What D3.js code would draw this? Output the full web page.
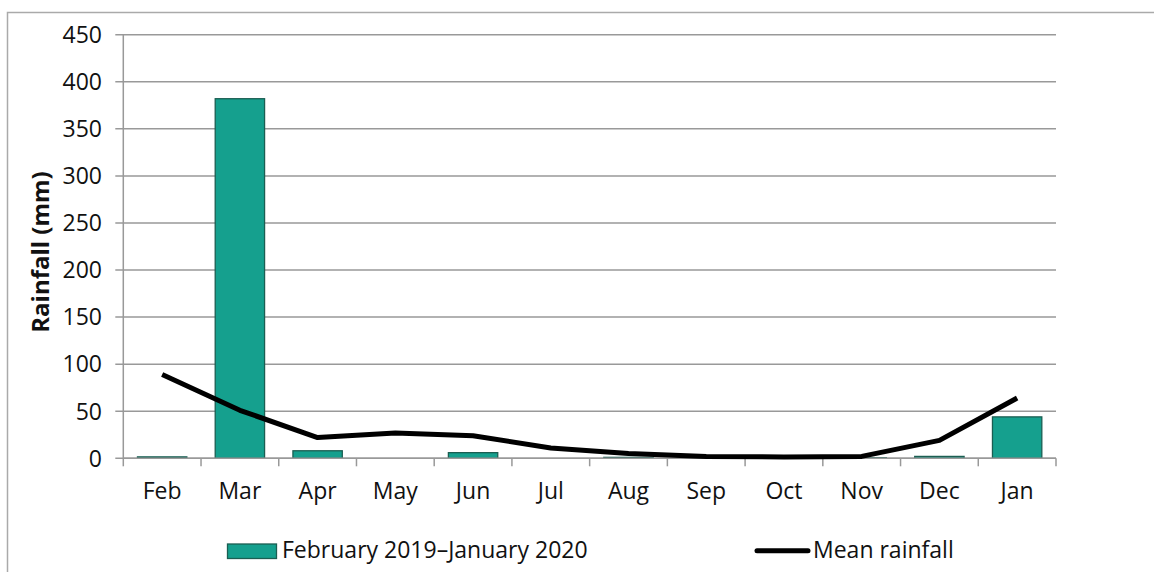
<!DOCTYPE html>
<html><head><meta charset="utf-8">
<script src="https://cdn.jsdelivr.net/npm/d3@7"></script>
<style>body{margin:0;background:#fff;} svg{display:block;}</style>
</head><body>
<svg id="chart" width="1154" height="572"></svg>
<script>
const months = ["Feb","Mar","Apr","May","Jun","Jul","Aug","Sep","Oct","Nov","Dec","Jan"];
const rainfall2019 = [1.5, 382, 8, 0, 6, 0, 1, 0, 0, 0.5, 2, 44];
const meanRainfall = [89, 51, 22, 27, 24, 11, 5, 2, 1.5, 2, 19, 64];
const yTicks = [0, 50, 100, 150, 200, 250, 300, 350, 400, 450];
const barLabel = "February 2019–January 2020";
const lineLabel = "Mean rainfall";
const yTitle = "Rainfall (mm)";

const svg = d3.select("#chart");
const font = "'Open Sans', 'Noto Sans', sans-serif";
const gridColor = "#999";
const fs = 23;

// outer frame
svg.append("path").attr("d","M7.5,572 L7.5,12.5 L1154,12.5")
  .attr("fill","none").attr("stroke","#aaa").attr("stroke-width",1.5);

const x0 = 123.3, x1 = 1056, yTop = 34.7, yBot = 458.3;
const x = d3.scaleBand().domain(months).range([x0, x1]).paddingInner(0).paddingOuter(0);
const y = d3.scaleLinear().domain([0, 450]).range([yBot, yTop]);

// gridlines
svg.append("g").selectAll("line").data(yTicks).join("line")
  .attr("x1", x0 - 8).attr("x2", x1)
  .attr("y1", d => y(d)).attr("y2", d => y(d))
  .attr("stroke", gridColor).attr("stroke-width", 1.5);

// y axis line
svg.append("line").attr("x1", x0).attr("x2", x0).attr("y1", yTop).attr("y2", yBot)
  .attr("stroke", gridColor).attr("stroke-width", 1.5);

// y tick labels
svg.append("g").selectAll("text").data(yTicks).join("text")
  .attr("x", 102).attr("y", d => y(d)).attr("dy","0.36em")
  .attr("text-anchor","end").attr("font-family", font).attr("font-size", fs)
  .attr("fill","#111").text(d => d);

// x axis ticks
const bounds = months.map(m => x(m)).concat([x1]);
svg.append("g").selectAll("line").data(bounds).join("line")
  .attr("x1", d => d).attr("x2", d => d).attr("y1", yBot).attr("y2", yBot + 8)
  .attr("stroke", gridColor).attr("stroke-width", 1.5);

// bars
const bw = x.bandwidth() * 0.635;
svg.append("g").selectAll("rect").data(months).join("rect")
  .attr("x", (m) => x(m) + (x.bandwidth() - bw)/2)
  .attr("width", bw)
  .attr("y", (m,i) => y(rainfall2019[i]))
  .attr("height", (m,i) => Math.max(0, yBot - y(rainfall2019[i])))
  .attr("fill", "#15a08e").attr("stroke", "#1b5e52").attr("stroke-width", 1.3);

// x axis baseline (on top)
svg.append("line").attr("x1", x0).attr("x2", x1).attr("y1", yBot).attr("y2", yBot)
  .attr("stroke", gridColor).attr("stroke-width", 1.5);

// mean line
const line = d3.line().x((d,i) => x(months[i]) + x.bandwidth()/2).y(d => y(d));
svg.append("path").datum(meanRainfall).attr("d", line)
  .attr("fill","none").attr("stroke","#000").attr("stroke-width",5)
  .attr("stroke-linejoin","round");

// x labels
svg.append("g").selectAll("text").data(months).join("text")
  .attr("x", m => x(m) + x.bandwidth()/2).attr("y", 499)
  .attr("text-anchor","middle").attr("font-family", font).attr("font-size", fs)
  .attr("fill","#111").text(m => m);

// y title
svg.append("text").attr("transform","translate(49,252) rotate(-90)")
  .attr("text-anchor","middle").attr("font-family", font).attr("font-size", 24)
  .attr("font-weight","bold").attr("fill","#111").text(yTitle);

// legend
const lg = svg.append("g");
lg.append("rect").attr("x", 227.5).attr("y", 544).attr("width", 49).attr("height", 14.5)
  .attr("fill","#15a08e").attr("stroke","#1b5e52").attr("stroke-width",1.3);
lg.append("text").attr("x", 282).attr("y", 558)
  .attr("font-family", font).attr("font-size", fs).attr("fill","#111").text(barLabel);
lg.append("line").attr("x1", 757).attr("x2", 808).attr("y1", 550.7).attr("y2", 550.7)
  .attr("stroke","#000").attr("stroke-width",5).attr("stroke-linecap","round");
lg.append("text").attr("x", 813).attr("y", 558)
  .attr("font-family", font).attr("font-size", fs).attr("fill","#111").text(lineLabel);
</script>
</body></html>
